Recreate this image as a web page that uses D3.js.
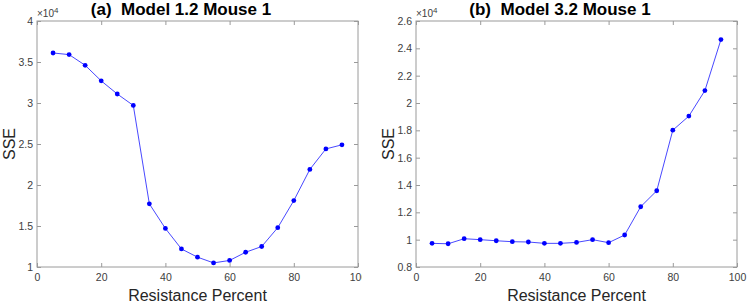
<!DOCTYPE html>
<html>
<head>
<meta charset="utf-8">
<script src="https://cdn.jsdelivr.net/npm/d3@7"></script>
<style>
  body { margin: 0; background: #fff; }
  svg { display: block; font-family: "Liberation Sans", Arial, sans-serif; }
</style>
</head>
<body>
<div id="chart"></div>
<script>
// resistance percent (shared x values)
const resistance = [5, 10, 15, 20, 25, 30, 35, 40, 45, 50, 55, 60, 65, 70, 75, 80, 85, 90, 95];

// SSE values, in units of 10^4
const sseModel12 = [3.61, 3.59, 3.46, 3.27, 3.11, 2.97, 1.77, 1.47, 1.22, 1.12, 1.05, 1.08, 1.18, 1.25, 1.48, 1.81, 2.19, 2.44, 2.49];
const sseModel32 = [0.973, 0.97, 1.007, 1.0, 0.992, 0.985, 0.983, 0.973, 0.973, 0.98, 1.0, 0.978, 1.034, 1.241, 1.358, 1.801, 1.904, 2.091, 2.464];

const titles = ["(a)  Model 1.2 Mouse 1", "(b)  Model 3.2 Mouse 1"];
const xTicks = [0, 20, 40, 60, 80, 100];
const yTicksA = [1, 1.5, 2, 2.5, 3, 3.5, 4];
const yTicksB = [0.8, 1, 1.2, 1.4, 1.6, 1.8, 2, 2.2, 2.4, 2.6];

const W = 747, H = 302;

const svg = d3.select("#chart").append("svg")
    .attr("width", W)
    .attr("height", H);

// left panel is cut off at the right in the original figure
svg.append("defs").append("clipPath")
    .attr("id", "clipA")
    .append("rect")
    .attr("x", 0).attr("y", 0)
    .attr("width", 362).attr("height", H);

const panels = [
    {title: titles[0], values: sseModel12, yDomain: [1, 4], yTicks: yTicksA,
     left: 37, right: 358, titleX: 181, fmt: d3.format("~g"), clip: "url(#clipA)"},
    {title: titles[1], values: sseModel32, yDomain: [0.8, 2.6], yTicks: yTicksB,
     left: 416, right: 737, titleX: 560, fmt: d3.format(".1f"), clip: null}
];

const plotTop = 21, plotBottom = 267;
const axisColor = "#9a9a9a", textColor = "#404040";

panels.forEach(p => {
    const g = svg.append("g").attr("clip-path", p.clip);

    const x = d3.scaleLinear().domain([0, 100]).range([p.left, p.right]);
    const y = d3.scaleLinear().domain(p.yDomain).range([plotBottom, plotTop]);

    // box
    g.append("rect")
        .attr("x", p.left).attr("y", plotTop)
        .attr("width", p.right - p.left).attr("height", plotBottom - plotTop)
        .attr("fill", "none")
        .attr("stroke", axisColor)
        .attr("stroke-width", 1);

    // axes with inward ticks
    const yFmt = d => {
        const s = p.fmt(d);
        return s.endsWith(".0") ? s.slice(0, -2) : s;
    };

    const xAxis = g.append("g")
        .attr("transform", `translate(0,${plotBottom})`)
        .call(d3.axisBottom(x).tickValues(xTicks).tickSize(-4).tickPadding(7));
    const yAxis = g.append("g")
        .attr("transform", `translate(${p.left},0)`)
        .call(d3.axisLeft(y).tickValues(p.yTicks).tickSize(-4).tickPadding(4).tickFormat(yFmt));
    const xTop = g.append("g")
        .attr("transform", `translate(0,${plotTop})`)
        .call(d3.axisTop(x).tickValues(xTicks).tickSize(-4).tickFormat(""));
    const yRight = g.append("g")
        .attr("transform", `translate(${p.right},0)`)
        .call(d3.axisRight(y).tickValues(p.yTicks).tickSize(-4).tickFormat(""));

    [xAxis, yAxis, xTop, yRight].forEach(a => {
        a.select(".domain").remove();
        a.selectAll(".tick line").attr("stroke", axisColor);
        a.selectAll("text")
            .attr("fill", textColor)
            .attr("font-size", 10.5)
            .attr("font-family", "Liberation Sans, Arial, sans-serif");
    });

    // exponent label
    const expo = g.append("text")
        .attr("x", p.left)
        .attr("y", 17)
        .attr("fill", textColor)
        .attr("font-size", 10);
    expo.append("tspan").text("\u00d710");
    expo.append("tspan").attr("dy", -4).attr("font-size", 8).text("4");

    // title
    g.append("text")
        .attr("x", p.titleX)
        .attr("y", 15)
        .attr("text-anchor", "middle")
        .attr("font-weight", "bold")
        .attr("font-size", 17)
        .attr("fill", "#000")
        .style("white-space", "pre")
        .text(p.title);

    // axis labels
    g.append("text")
        .attr("transform", `translate(${p.left - 22.5},${(plotTop + plotBottom) / 2}) rotate(-90)`)
        .attr("text-anchor", "middle")
        .attr("font-size", 16)
        .attr("fill", "#262626")
        .text("SSE");

    g.append("text")
        .attr("x", (p.left + p.right) / 2)
        .attr("y", 300.5)
        .attr("text-anchor", "middle")
        .attr("font-size", 16)
        .attr("fill", "#262626")
        .text("Resistance Percent");

    // line + markers
    const line = d3.line()
        .x((d, i) => x(resistance[i]))
        .y(d => y(d));

    g.append("path")
        .datum(p.values)
        .attr("fill", "none")
        .attr("stroke", "#3333ff")
        .attr("stroke-width", 0.9)
        .attr("d", line);

    g.selectAll(".dot")
        .data(p.values)
        .enter().append("circle")
        .attr("class", "dot")
        .attr("cx", (d, i) => x(resistance[i]))
        .attr("cy", d => y(d))
        .attr("r", 2.4)
        .attr("fill", "#0000ff");
});
</script>
</body>
</html>
